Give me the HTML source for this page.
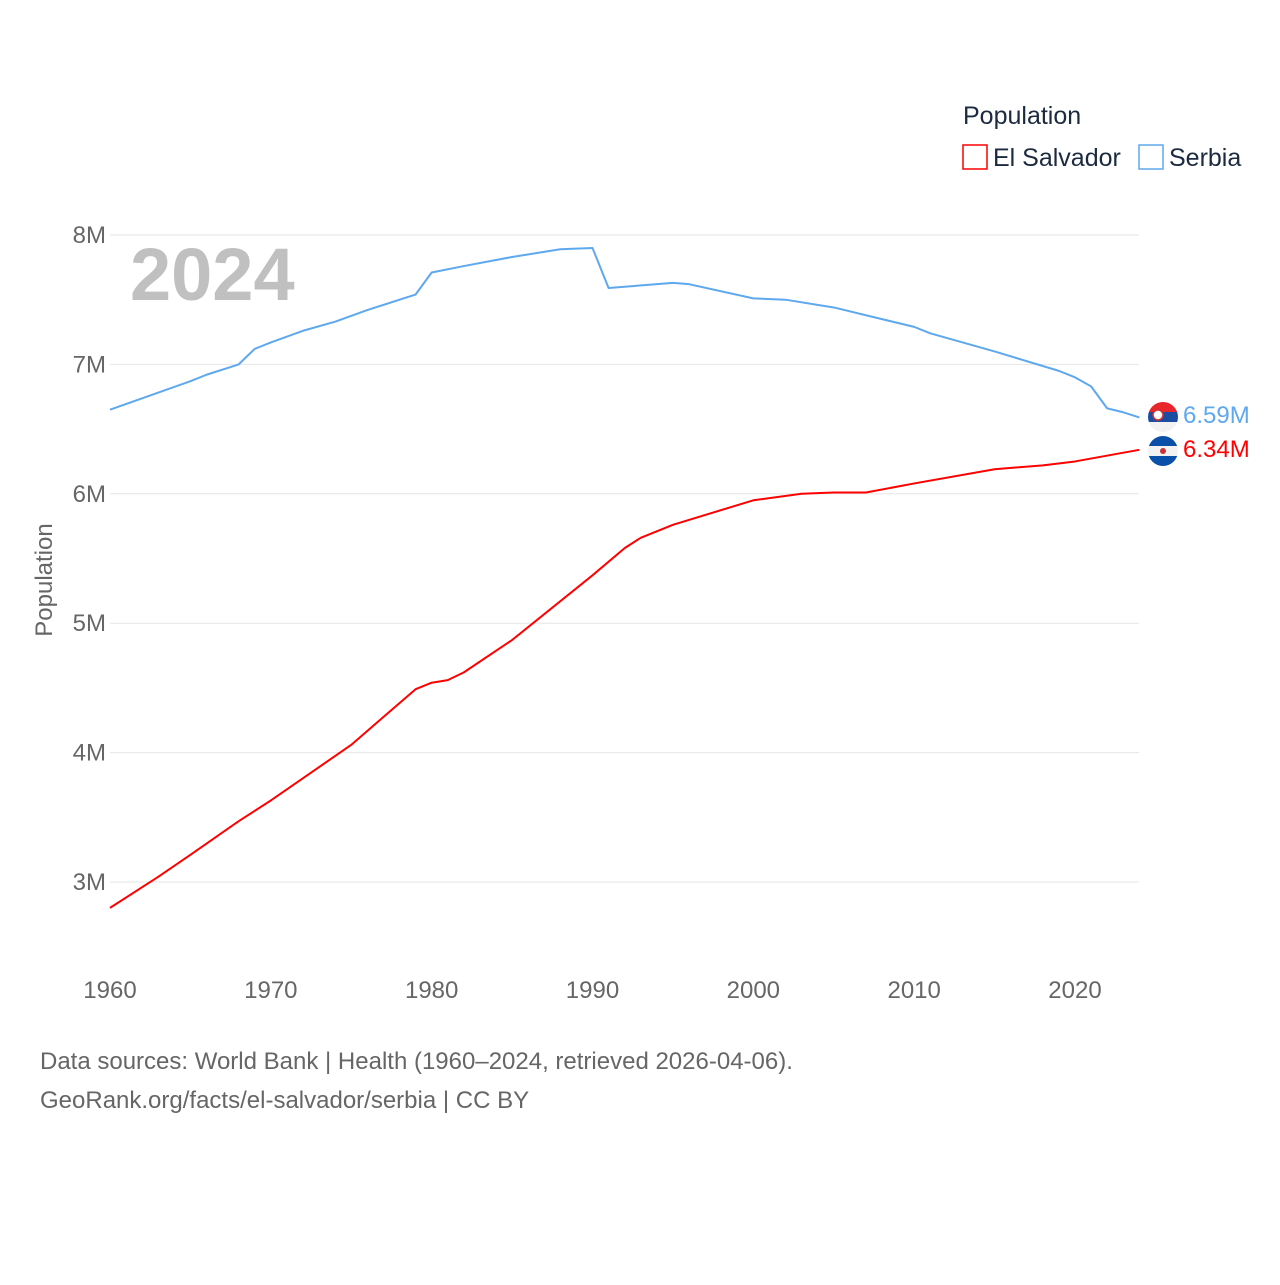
<!DOCTYPE html>
<html><head><meta charset="utf-8"><style>
body{margin:0;background:#fff;font-family:"Liberation Sans",sans-serif}
svg text{font-family:"Liberation Sans",sans-serif}
</style></head><body>
<svg width="1280" height="1280">
<defs>
<clipPath id="c1"><circle cx="1163" cy="417" r="15"/></clipPath>
<clipPath id="c2"><circle cx="1163" cy="451" r="15"/></clipPath>
</defs>
<text x="963" y="124" font-size="25" fill="#1c2a40">Population</text>
<g><rect x="963" y="145" width="24" height="24" fill="none" stroke="#ff0000" stroke-width="1.5"/><text x="993" y="166" font-size="25" fill="#1c2a40">El Salvador</text></g>
<g><rect x="1139" y="145" width="24" height="24" fill="none" stroke="#5ea8ee" stroke-width="1.5"/><text x="1169" y="166" font-size="25" fill="#1c2a40">Serbia</text></g>
<g id="grid"></g>
<text x="130" y="300" font-size="74" font-weight="bold" fill="#c0c0c0">2024</text>
<text transform="translate(52,580) rotate(-90)" text-anchor="middle" font-size="24" fill="#666">Population</text>
<g id="plot"></g>
<g>
<g clip-path="url(#c1)">
<rect x="1148" y="402" width="30" height="10" fill="#e8262b"/>
<rect x="1148" y="412" width="30" height="10" fill="#1b4da0"/>
<rect x="1148" y="422" width="30" height="10" fill="#f2f2f2"/>
</g>
<circle cx="1158" cy="415" r="5" fill="#fff" stroke="#c33" stroke-width="1.5"/>
<text x="1183" y="423" font-size="24" fill="#5ea8ee">6.59M</text></g>
<g>
<g clip-path="url(#c2)">
<rect x="1148" y="436" width="30" height="10" fill="#0a4fa8"/>
<rect x="1148" y="446" width="30" height="10" fill="#f2f2f2"/>
<rect x="1148" y="456" width="30" height="10" fill="#0a4fa8"/>
</g>
<circle cx="1163" cy="451" r="3" fill="#c33"/>
<text x="1183" y="457" font-size="24" fill="#ff0000">6.34M</text></g>
<text x="40" y="1069" font-size="24" fill="#666">Data sources: World Bank | Health (1960–2024, retrieved 2026-04-06).</text>
<text x="40" y="1108" font-size="24" fill="#666">GeoRank.org/facts/el-salvador/serbia | CC BY</text>
</svg>
<script>
const yTicks=[3,4,5,6,7,8];
const xTicks=[1960,1970,1980,1990,2000,2010,2020];
const serbiaYears=[1960,1965,1966,1968,1969,1970,1972,1974,1976,1978,1979,1980,1982,1985,1988,1990,1991,1995,1996,2000,2002,2005,2010,2011,2015,2019,2020,2021,2022,2023,2024];
const serbiaValues=[6.65,6.87,6.92,7.00,7.12,7.17,7.26,7.33,7.42,7.50,7.54,7.71,7.76,7.83,7.89,7.90,7.59,7.63,7.62,7.51,7.50,7.44,7.29,7.24,7.10,6.95,6.90,6.83,6.66,6.63,6.59];
const salvYears=[1960,1963,1965,1968,1970,1975,1979,1980,1981,1982,1985,1990,1992,1993,1995,2000,2003,2005,2007,2010,2015,2018,2020,2024];
const salvValues=[2.80,3.04,3.21,3.47,3.63,4.06,4.49,4.54,4.56,4.62,4.87,5.37,5.58,5.66,5.76,5.95,6.00,6.01,6.01,6.08,6.19,6.22,6.25,6.34];
const X=y=>110+(y-1960)*(1075-110)/60;
const Y=v=>882-(v-3)*(882-235)/5;
const NS='http://www.w3.org/2000/svg';
const grid=document.getElementById('grid'),plot=document.getElementById('plot');
function mk(t,a,p){const e=document.createElementNS(NS,t);for(const k in a)e.setAttribute(k,a[k]);p.appendChild(e);return e;}
yTicks.forEach(v=>{
const l=mk('line',{x1:110,x2:1139,y1:Y(v),y2:Y(v),stroke:'#e6e6e6','stroke-width':1},grid);


const t=mk('text',{x:106,y:Y(v)+8,'text-anchor':'end','font-size':24,fill:'#666'},grid);t.textContent=v+'M';


});
xTicks.forEach(v=>{
const t=mk('text',{x:X(v),y:998,'text-anchor':'middle','font-size':24,fill:'#666'},grid);t.textContent=v;


});
function line(xs,vs,c,n){
const p=mk('path',{d:xs.map((x,i)=>(i?'L':'M')+X(x)+','+Y(vs[i])).join(''),fill:'none',stroke:c,'stroke-width':2,'stroke-linejoin':'round'},plot);


}
line(serbiaYears,serbiaValues,'#5ea8ee','serbia-line');
line(salvYears,salvValues,'#ff0000','el-salvador-line');
</script>
</body></html>
